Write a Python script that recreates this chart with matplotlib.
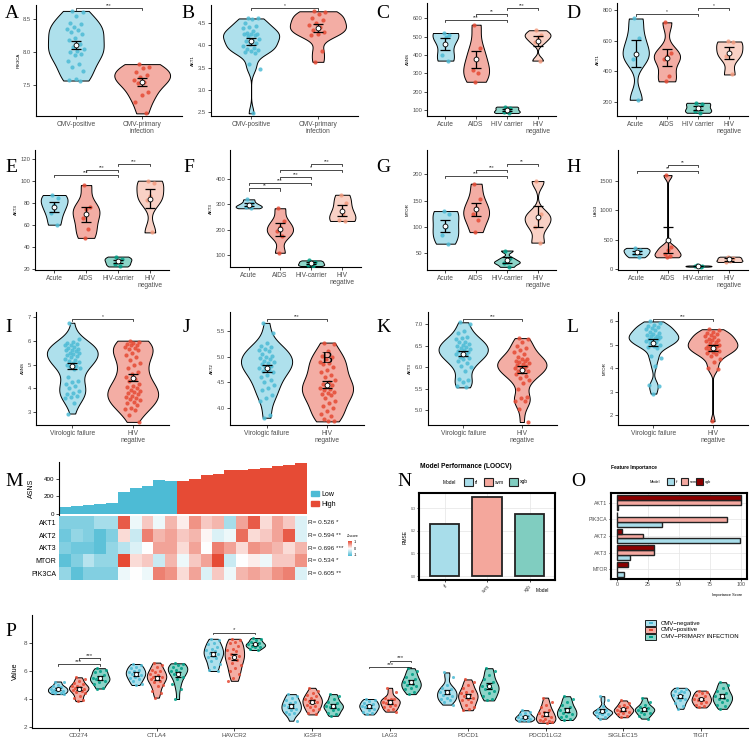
import numpy as np
import matplotlib
matplotlib.use("Agg")
import matplotlib.pyplot as plt
from matplotlib.patches import Rectangle
from matplotlib.colors import to_rgba, LinearSegmentedColormap

plt.rcParams['font.family'] = ['Liberation Sans', 'DejaVu Sans']

BLUE, RED, TEAL, SALMON = '#4DBBD5', '#E64B35', '#00A087', '#F39B7F'

# ---- A / B : CMV ----
cmv_labels = ['CMV-positive', 'CMV-primary\ninfection']
A_pos = [8.63, 8.62, 8.55, 8.45, 8.43, 8.38, 8.36, 8.34, 8.31, 8.28, 8.22, 8.18, 8.12,
         8.08, 8.05, 8.02, 8.00, 7.98, 7.96, 7.86, 7.82, 7.78, 7.72, 7.60, 7.58, 7.57]
A_pri = [7.82, 7.77, 7.76, 7.70, 7.65, 7.63, 7.58, 7.55, 7.53, 7.40, 7.35, 7.24, 7.07]
B_pos = [4.60, 4.60, 4.58, 4.50, 4.42, 4.40, 4.38, 4.32, 4.28, 4.26, 4.25, 4.25, 4.22, 4.20,
         4.15, 4.12, 4.10, 4.05, 4.02, 3.98, 3.95, 3.92, 3.90, 3.88, 3.85, 3.82, 3.58, 3.48, 2.48]
B_pri = [4.76, 4.74, 4.70, 4.62, 4.57, 4.50, 4.45, 4.40, 4.35, 4.30, 4.25, 4.22, 3.87, 3.63]

# ---- C-H : HIV stages ----
hiv_labels = ['Acute', 'AIDS', 'HIV carrier', 'HIV\nnegative']
hiv_labels2 = ['Acute', 'AIDS', 'HIV-carrier', 'HIV\nnegative']
C_vals = [[520, 510, 500, 400, 370], [565, 440, 380, 320, 300, 255],
          [120, 115, 100, 90, 85], [535, 510, 500, 470, 370]]
D_vals = [[745, 615, 520, 480, 215], [720, 520, 500, 480, 370, 335],
          [195, 190, 160, 140, 130], [595, 590, 520, 500, 380]]
E_vals = [[87, 84, 78, 71, 60], [96, 76, 74, 66, 56, 48],
          [31, 29, 27, 24, 22], [100, 98, 86, 82, 53]]
F_vals = [[320, 305, 295, 290, 285], [285, 235, 210, 195, 175, 110],
          [80, 75, 68, 62, 58], [338, 305, 262, 240, 235]]
G_vals = [[130, 125, 100, 85, 68], [182, 153, 135, 125, 113, 90],
          [55, 40, 33, 32, 24], [187, 125, 115, 100, 70]]
H_vals = [[360, 330, 290, 250, 200], [1600, 380, 330, 250, 230, 200],
          [60, 55, 50, 45, 40], [210, 180, 140, 120]]

# ---- I-L : virologic failure ----
vf_labels = ['Virologic failure', 'HIV\nnegative']
I_vf = [6.75, 6.05, 5.95, 5.9, 5.85, 5.8, 5.8, 5.75, 5.7, 5.65, 5.6, 5.6, 5.55, 5.5, 5.5, 5.45,
        5.4, 5.35, 5.3, 5.25, 5.2, 5.15, 5.1, 5.05, 5.0, 4.95, 4.9, 4.85, 4.8, 4.5, 4.3, 4.25,
        4.2, 4.1, 4.0, 3.9, 3.8, 3.75, 3.7, 3.65, 3.6, 3.4, 2.95]
I_hn = [6.0, 5.95, 5.9, 5.85, 5.8, 5.8, 5.75, 5.7, 5.65, 5.6, 5.5, 5.4, 5.3, 5.2, 5.05, 5.0,
        4.85, 4.7, 4.6, 4.5, 4.4, 4.3, 4.2, 4.1, 4.05, 4.0, 3.95, 3.9, 3.85, 3.8, 3.75, 3.7,
        3.65, 3.6, 3.55, 3.5, 3.45, 3.4, 3.3, 3.2, 3.15, 3.1, 2.9, 2.6]
J_vf = [5.65, 5.45, 5.27, 5.2, 5.18, 5.15, 5.12, 5.1, 5.05, 5.02, 5.0, 4.98, 4.95, 4.92, 4.9,
        4.88, 4.85, 4.82, 4.8, 4.78, 4.75, 4.72, 4.7, 4.65, 4.6, 4.55, 4.5, 4.45, 4.4, 4.35,
        4.25, 4.2, 4.15, 3.87, 3.82]
J_hn = [5.27, 5.25, 5.1, 5.02, 5.0, 4.95, 4.9, 4.88, 4.85, 4.8, 4.75, 4.7, 4.65, 4.6, 4.55,
        4.5, 4.48, 4.45, 4.42, 4.4, 4.38, 4.35, 4.32, 4.3, 4.28, 4.25, 4.2, 4.15, 4.1, 4.05,
        4.0, 3.95, 3.9, 3.85, 3.8, 3.75, 3.75]
K_vf = [7.05, 7.0, 6.85, 6.8, 6.7, 6.68, 6.65, 6.6, 6.58, 6.55, 6.52, 6.5, 6.48, 6.45, 6.42,
        6.4, 6.38, 6.35, 6.32, 6.3, 6.28, 6.25, 6.22, 6.2, 6.15, 6.1, 6.02, 6.0, 5.9, 5.72,
        5.7, 5.65, 5.55, 5.53]
K_hn = [6.68, 6.65, 6.6, 6.5, 6.45, 6.4, 6.35, 6.3, 6.25, 6.2, 6.2, 6.15, 6.15, 6.12, 6.1,
        6.08, 6.05, 6.03, 6.0, 5.98, 5.95, 5.92, 5.9, 5.88, 5.85, 5.8, 5.75, 5.7, 5.62, 5.5,
        5.3, 5.27, 5.22, 5.2, 5.02, 4.72]
L_vf = [5.98, 5.9, 5.85, 5.8, 5.75, 5.7, 5.65, 5.6, 5.55, 5.5, 5.45, 5.4, 5.38, 5.35, 5.3,
        5.28, 5.25, 5.22, 5.2, 5.15, 5.1, 5.05, 5.0, 4.95, 4.9, 4.85, 4.5, 4.45, 4.08, 3.3,
        3.25, 2.92]
L_hn = [5.65, 5.6, 5.55, 5.5, 5.45, 5.4, 5.35, 5.3, 5.25, 5.2, 5.18, 5.15, 5.1, 5.05, 5.0,
        4.98, 4.95, 4.92, 4.9, 4.85, 4.8, 4.75, 4.72, 4.7, 4.65, 4.6, 4.5, 4.4, 4.25, 4.0,
        3.95, 1.75]

# ---- M : heatmap ----
m_genes = ['AKT1', 'AKT2', 'AKT3', 'MTOR', 'PIK3CA']
m_r = ['R= 0.526 *', 'R= 0.594 **', 'R= 0.696 ***', 'R= 0.534 *', 'R= 0.605 **']
m_asns = [75, 90, 100, 110, 120, 250, 295, 320, 380, 372, 375, 400, 440, 455, 495, 500,
          510, 525, 540, 560, 580]
m_group = ['Low'] * 10 + ['High'] * 11
m_z = [
    [-0.7, -0.7, -0.7, -0.5, -0.5, 0.9, -0.1, 0.3, -0.1, 0.4, 0.1, 0.6, 0.3, 0.4, -0.5, 0.5, 0.9, 0.2, 0.5, 0.3, -0.2],
    [-0.8, -0.6, -0.7, -0.9, -0.7, 0.2, -0.3, 0.7, 0.4, 0.5, 0.3, 0.4, 0.05, -0.2, -0.1, 0.8, 0.2, 0.3, 0.5, 0.9, -0.2],
    [-0.7, -0.8, -0.8, -0.9, -0.6, -0.4, -0.2, 0.0, 0.5, 0.5, 0.2, 0.5, 0.0, 0.7, 0.5, 0.2, 0.6, 0.5, 0.4, 0.2, 0.4],
    [-0.9, -0.7, -0.4, -0.6, -0.6, 1.0, 0.2, 0.3, -0.3, 0.4, -0.1, 0.3, 0.5, 1.0, -0.3, 0.0, 0.1, -0.1, 0.3, 0.3, 0.6],
    [-0.6, -0.9, -0.7, -0.7, -0.7, -0.1, 0.0, -0.1, 0.7, 0.6, 0.2, 0.5, -0.2, 0.3, -0.1, 0.4, 0.5, 0.4, 0.6, 0.7, -0.2],
]

# ---- N / O : models ----
models = ['rf', 'svm', 'xgb']
model_rmse = [0.228, 0.349, 0.272]
model_cols = ['#A8DDEA', '#F4A79C', '#80CDC0']
fi_genes = ['AKT1', 'PIK3CA', 'AKT2', 'AKT3', 'MTOR']
fi_rf = [0.5, 36, 99, 10, 5.5]
fi_svm = [100, 89, 21, 30, 0]
fi_xgb = [100, 0, 4, 30, 9]
fi_cols = ['#A8DDEA', '#F4A8A0', '#8B0000']

# ---- P : immune checkpoints ----
p_genes = ['CD274', 'CTLA4', 'HAVCR2', 'IGSF8', 'LAG3', 'PDCD1', 'PDCD1LG2', 'SIGLEC15', 'TIGIT']
p_groups = ['CMV\u2212negative', 'CMV\u2212positive', 'CMV\u2212PRIMARY INFECTION']
P_neg = [
    [5.25, 5.2, 5.0, 4.9, 4.85, 4.8, 4.75, 4.7, 4.65, 4.6, 4.55, 4.5, 4.45, 4.4, 4.35],
    [6.5, 6.4, 6.3, 6.2, 6.1, 6.0, 5.9, 5.85, 5.8, 5.7, 5.6, 5.5, 5.4, 5.3, 5.1, 5.0],
    [8.3, 8.2, 8.0, 7.9, 7.7, 7.6, 7.5, 7.4, 7.3, 7.2, 7.1, 7.0, 6.9, 6.7, 6.5, 6.3, 6.1, 6.0],
    [4.35, 4.25, 4.1, 3.9, 3.8, 3.7, 3.6, 3.5, 3.4, 3.3, 3.2, 3.1, 3.0, 2.9, 2.45],
    [4.0, 3.95, 3.85, 3.75, 3.65, 3.6, 3.5, 3.45, 3.4, 3.3, 3.2, 3.1, 3.0, 2.9],
    [5.9, 5.6, 5.0, 4.8, 4.7, 4.6, 4.5, 4.4, 4.3, 4.2, 4.1, 4.0, 3.9, 3.8, 3.6],
    [3.2, 3.1, 3.0, 2.9, 2.8, 2.75, 2.7, 2.65, 2.6, 2.55, 2.5, 2.45, 2.4],
    [4.2, 3.9, 3.5, 3.3, 3.2, 3.15, 3.1, 3.05, 3.0, 2.95, 2.9, 2.8, 2.7, 2.6],
    [4.8, 4.7, 4.6, 4.55, 4.5, 4.4, 4.3, 4.2, 4.1, 4.0, 3.9, 3.7, 3.5, 3.3],
]
P_pos = [
    [5.55, 5.45, 5.3, 5.15, 5.05, 4.95, 4.9, 4.85, 4.8, 4.75, 4.7, 4.65, 4.6, 4.5, 4.4, 4.25, 4.1, 3.95, 3.85],
    [6.6, 6.45, 6.3, 6.1, 6.0, 5.9, 5.8, 5.7, 5.6, 5.55, 5.5, 5.4, 5.3, 5.2, 5.0, 4.9, 4.6, 4.4, 4.1],
    [8.3, 8.2, 8.1, 8.0, 7.8, 7.6, 7.5, 7.4, 7.2, 7.1, 7.0, 6.9, 6.8, 6.6, 6.4, 6.2, 6.0, 5.8, 5.5, 5.3],
    [4.8, 4.6, 4.4, 4.3, 4.2, 4.1, 4.0, 3.9, 3.85, 3.8, 3.7, 3.6, 3.5, 3.4, 3.3, 3.2, 3.0, 2.9],
    [4.8, 4.5, 4.0, 4.1, 4.0, 3.9, 3.8, 3.75, 3.7, 3.6, 3.5, 3.4, 3.3, 3.2, 3.1],
    [5.4, 5.2, 5.0, 4.8, 4.6, 4.5, 4.4, 4.3, 4.2, 4.1, 4.0, 3.9, 3.8, 3.6, 3.4, 3.3, 3.2],
    [4.1, 3.8, 3.6, 3.4, 3.2, 3.1, 3.0, 2.9, 2.8, 2.7, 2.6, 2.5, 2.45, 2.4, 2.35, 2.3],
    [3.9, 3.75, 3.6, 3.5, 3.4, 3.3, 3.25, 3.2, 3.15, 3.1, 3.0, 2.9, 2.8, 2.7],
    [4.6, 4.5, 4.4, 4.3, 4.2, 4.1, 4.0, 3.95, 3.9, 3.8, 3.7, 3.6, 3.5, 3.4],
]
P_pri = [
    [6.2, 6.1, 6.0, 5.9, 5.75, 5.6, 5.5, 5.45, 5.4, 5.3, 5.2, 5.1, 4.8, 4.75],
    [6.55, 6.5, 6.4, 6.3, 6.2, 6.1, 6.0, 5.9, 5.8, 5.6, 5.4, 5.1, 4.7, 4.0],
    [8.35, 8.3, 8.2, 8.1, 8.0, 7.95, 7.9, 7.85, 7.8, 7.75, 7.7, 7.6, 7.5],
    [4.35, 4.2, 4.0, 3.8, 3.7, 3.6, 3.5, 3.45, 3.4, 3.3, 3.2, 3.0, 2.9, 2.8],
    [6.2, 6.0, 5.8, 5.6, 5.45, 5.3, 5.2, 5.1, 5.0, 4.9, 4.8, 4.7, 4.5, 4.35],
    [6.2, 6.0, 5.7, 5.4, 5.2, 5.0, 4.9, 4.8, 4.7, 4.6, 4.4, 4.2, 4.0, 3.9],
    [4.2, 4.0, 3.8, 3.6, 3.4, 3.3, 3.2, 3.1, 3.0, 2.9, 2.8, 2.7, 2.6, 2.5],
    [4.1, 3.8, 3.6, 3.45, 3.35, 3.3, 3.25, 3.2, 3.1, 3.0, 2.9, 2.8, 2.6],
    [5.2, 5.0, 4.8, 4.6, 4.4, 4.3, 4.2, 4.1, 4.0, 3.9, 3.8, 3.6, 3.5, 3.3],
]

W, H = 750, 737
fig = plt.figure(figsize=(7.5, 7.37), dpi=100)


def ax_px(l, t, r, b):
    return fig.add_axes([l / W, 1 - b / H, (r - l) / W, (b - t) / H])


def ftext(x, y, s, **kw):
    fig.text(x / W, 1 - y / H, s, **kw)


def frect(x, y, w, h, **kw):
    fig.add_artist(Rectangle((x / W, 1 - (y + h) / H), w / W, h / H,
                             transform=fig.transFigure, **kw))


def letter(x, y, s):
    ftext(x, y, s, family='Liberation Serif', fontsize=14, ha='left', va='center')


def kde(vals, grid):
    v = np.asarray(vals, float)
    n = len(v)
    sd = v.std(ddof=1)
    q75, q25 = np.percentile(v, [75, 25])
    lo = min(sd, (q75 - q25) / 1.34) if q75 > q25 else sd
    bw = 0.9 * lo * n ** -0.2
    z = (grid[:, None] - v[None, :]) / bw
    return np.exp(-0.5 * z ** 2).sum(1) / (n * bw * np.sqrt(2 * np.pi))


def jitter(n, w):
    return ((np.arange(n) * 0.6180339887 + 0.3) % 1.0 - 0.5) * 2 * w


def classic(ax, xs=4.8, ys=4.2):
    for s in ['top', 'right']:
        ax.spines[s].set_visible(False)
    for s in ['left', 'bottom']:
        ax.spines[s].set_linewidth(0.8)
    ax.tick_params(length=2, width=0.5, labelcolor='#4D4D4D', pad=1.5)
    ax.tick_params(axis='x', labelsize=xs)
    ax.tick_params(axis='y', labelsize=ys)


def violins(ax, groups, xpos, cols, halfw, jw, ps, capsize, ms):
    # each violin scaled to the same maximum width (scale = "width")
    for g, c, x in zip(groups, cols, xpos):
        gr = np.linspace(min(g), max(g), 256)
        d = kde(g, gr)
        w = d / d.max() * halfw
        ax.fill_betweenx(gr, x - w, x + w, facecolor=to_rgba(c, 0.45),
                         edgecolor='black', lw=0.7, zorder=2)
        ax.scatter(x + jitter(len(g), jw), g, s=ps, color=c, alpha=0.85, lw=0, zorder=3)
        m = np.mean(g)
        se = np.std(g, ddof=1) / np.sqrt(len(g))
        ax.errorbar(x, m, yerr=se, fmt='none', ecolor='black', elinewidth=0.9,
                    capsize=capsize, capthick=0.9, zorder=4)
        ax.plot(x, m, 'o', ms=ms, mfc='white', mec='black', mew=0.6, zorder=5)


def bracket(ax, x1, x2, y, lab, tick, fs=3.5):
    ax.plot([x1, x1, x2, x2], [y - tick, y, y, y - tick], color='black', lw=0.5, zorder=6)
    ax.text((x1 + x2) / 2, y, lab, ha='center', va='bottom', fontsize=fs, color='#333333')


def violin_panel(rect, groups, labels, cols, ylabel, ylim, yticks, brackets):
    ax = ax_px(*rect)
    n = len(groups)
    violins(ax, groups, np.arange(n), cols, 0.42, 0.14 if n > 2 else 0.13,
            9, 3.5, 3.5)
    ax.set_xlim(-0.6, n - 0.4)
    ax.set_ylim(*ylim)
    ax.set_yticks(yticks)
    ax.set_xticks(np.arange(n))
    ax.set_xticklabels(labels, linespacing=1.0)
    ax.set_ylabel(ylabel, fontsize=3.2, labelpad=2)
    classic(ax)
    tick = (ylim[1] - ylim[0]) * 0.018
    for x1, x2, y, lab in brackets:
        bracket(ax, x1, x2, y, lab, tick)
    return ax


hiv_cols = [BLUE, RED, TEAL, SALMON]

# Row 1
violin_panel((36, 5, 182, 116), [A_pos, A_pri], cmv_labels, [BLUE, RED], 'PIK3CA',
             (7.03, 8.72), [7.5, 8.0, 8.5], [(0, 1, 8.67, '***')])
violin_panel((211, 5, 358, 116), [B_pos, B_pri], cmv_labels, [BLUE, RED], 'AKT1',
             (2.42, 4.9), [2.5, 3.0, 3.5, 4.0, 4.5], [(0, 1, 4.84, '*')])
violin_panel((427, 3, 556, 116), C_vals, hiv_labels, hiv_cols, 'ASNS',
             (69, 683), [100, 200, 300, 400, 500, 600],
             [(0, 2, 590, '***'), (1, 2, 624, '**'), (2, 3, 655, '***')])
violin_panel((617, 3, 748, 116), D_vals, hiv_labels, hiv_cols, 'AKT1',
             (109, 846), [200, 400, 600, 800],
             [(0, 2, 775, '*'), (2, 3, 812, '*')])
# Row 2
violin_panel((35, 150, 169, 270), E_vals, hiv_labels2, hiv_cols, 'AKT3',
             (18.8, 127.9), [20, 40, 60, 80, 100, 120],
             [(0, 2, 105, '***'), (1, 2, 110, '***'), (2, 3, 115, '***')])
violin_panel((230, 150, 361, 267), F_vals, hiv_labels2, hiv_cols, 'AKT3',
             (54, 514), [100, 200, 300, 400],
             [(0, 1, 363, '**'), (0, 2, 385, '***'), (1, 2, 409, '***'),
              (1, 3, 435, '*'), (2, 3, 459, '***')])
violin_panel((427, 150, 556, 270), G_vals, hiv_labels2, hiv_cols, 'MTOR',
             (18, 246), [50, 100, 150, 200],
             [(0, 2, 197, '***'), (1, 2, 208, '***'), (2, 3, 219, '**')])
violin_panel((618, 150, 748, 270), H_vals, hiv_labels2, hiv_cols, 'LAG3',
             (-17, 2028), [0, 500, 1000, 1500],
             [(0, 2, 1667, '**'), (1, 2, 1773, '**')])
# Row 3
violin_panel((36, 312, 169, 425), [I_vf, I_hn], vf_labels, [BLUE, RED], 'ASNS',
             (2.47, 7.2), [3, 4, 5, 6, 7], [(0, 1, 6.91, '*')])
axJ = violin_panel((230, 312, 364, 425), [J_vf, J_hn], vf_labels, [BLUE, RED], 'AKT2',
                   (3.68, 5.86), [4.0, 4.5, 5.0, 5.5], [(0, 1, 5.73, '***')])
axJ.text(1, 4.95, 'B', family='Liberation Serif', fontsize=12, ha='center', va='center', zorder=7)
violin_panel((428, 312, 557, 425), [K_vf, K_hn], vf_labels, [BLUE, RED], 'AKT3',
             (4.65, 7.29), [5.0, 5.5, 6.0, 6.5, 7.0], [(0, 1, 7.12, '***')])
violin_panel((618, 312, 748, 425), [L_vf, L_hn], vf_labels, [BLUE, RED], 'MTOR',
             (1.59, 6.38), [2, 3, 4, 5, 6], [(0, 1, 6.1, '***')])

# Panel M
axb = ax_px(59, 462, 307, 515)
ncol = len(m_asns)
axb.bar(np.arange(ncol), m_asns, width=1.0,
        color=[BLUE if g == 'Low' else RED for g in m_group], lw=0)
axb.set_xlim(-0.5, ncol - 0.5)
axb.set_ylim(-12, 590)
axb.set_yticks([0, 200, 400])
axb.set_xticks([])
for s in ['top', 'right', 'bottom']:
    axb.spines[s].set_visible(False)
axb.spines['left'].set_linewidth(0.8)
axb.tick_params(axis='y', labelsize=4.5, length=2, width=0.5, pad=1.5)
axb.set_ylabel('ASNS', fontsize=5, labelpad=6)

axh = ax_px(59, 516, 307, 580)
zcmap = LinearSegmentedColormap.from_list('z', [BLUE, '#FFFFFF', RED])
axh.imshow(np.array(m_z), cmap=zcmap, vmin=-1, vmax=1, aspect='auto',
           extent=(-0.5, ncol - 0.5, len(m_genes) - 0.5, -0.5))
axh.set_yticks(range(len(m_genes)))
axh.set_yticklabels(m_genes)
axh.set_xticks([])
axh.tick_params(axis='y', length=0, labelsize=5, pad=2)
for s in axh.spines.values():
    s.set_visible(False)
for i, r in enumerate(m_r):
    axh.text(ncol - 0.4, i, r, fontsize=4.6, va='center', ha='left', color='#222222')
frect(311, 491, 8, 5, color=BLUE)
frect(311, 501, 8, 5, color=RED)
ftext(321, 494, 'Low', fontsize=5, va='center')
ftext(321, 504, 'High', fontsize=5, va='center')
ftext(347, 536, 'Z-score', fontsize=2.5, va='center')
zbar = fig.add_axes([348 / W, 1 - 556 / H, 4 / W, 15 / H])
zbar.imshow(np.linspace(1, -1, 50)[:, None], cmap=zcmap, vmin=-1, vmax=1, aspect='auto')
zbar.set_axis_off()
for lab, yy in zip(['1', '0', '-1'], [542, 549, 555]):
    ftext(354, yy, lab, fontsize=2.8, va='center')

# Panel N
axn = ax_px(419, 493, 555, 580)
axn.bar(np.arange(3), model_rmse, width=0.7, color=model_cols, edgecolor='#222222', lw=1.3, zorder=3)
axn.set_xlim(-0.6, 2.6)
axn.set_ylim(-0.05 * max(model_rmse), 1.05 * max(model_rmse))
axn.set_yticks([0.0, 0.1, 0.2, 0.3])
axn.set_xticks(np.arange(3))
axn.set_xticklabels(models, rotation=45, ha='right', rotation_mode='anchor')
axn.tick_params(labelsize=3.5, length=1.5, width=0.5, pad=1, labelcolor='#4D4D4D')
axn.tick_params(axis='y', labelsize=2.5)
axn.grid(True, color='#E5E5E5', lw=0.5, zorder=0)
for s in axn.spines.values():
    s.set_linewidth(1.5)
axn.set_ylabel('RMSE', fontsize=3.5, labelpad=2)
ftext(549, 591, 'Model', fontsize=3.5, ha='right', va='center')
ftext(420, 467, 'Model Performance (LOOCV)', fontsize=4.8, fontweight='bold', va='center')
ftext(443, 482, 'Model', fontsize=3.5, va='center')
for x0, lab, c in zip([464, 484, 509], models, model_cols):
    frect(x0, 478, 9, 8, facecolor=c, edgecolor='#222222', lw=0.8)
    ftext(x0 + 11, 482, lab, fontsize=3.5, va='center')

# Panel O
axo = ax_px(611, 493, 747, 579)
ypos = np.arange(len(fi_genes))[::-1]
for off, vals, c in zip([-0.3, 0.0, 0.3], [fi_rf, fi_svm, fi_xgb], fi_cols):
    axo.barh(ypos + off, vals, height=0.3, color=c, edgecolor='#222222', lw=1.0, zorder=3)
axo.set_xlim(-5, 105)
axo.set_ylim(-0.6, len(fi_genes) - 0.4)
axo.set_yticks(ypos)
axo.set_yticklabels(fi_genes)
axo.set_xticks([0, 25, 50, 75, 100])
axo.tick_params(labelsize=3.8, length=1.5, width=0.5, pad=1, labelcolor='#4D4D4D')
axo.grid(True, color='#E5E5E5', lw=0.5, zorder=0)
for s in axo.spines.values():
    s.set_linewidth(1.5)
ftext(611, 467, 'Feature Importance', fontsize=3.5, fontweight='bold', va='center')
ftext(742, 595, 'Importance Score', fontsize=2.8, ha='right', va='center')
ftext(650, 482, 'Model', fontsize=2.8, va='center')
for x0, lab, c in zip([667, 681, 696], models, fi_cols):
    frect(x0, 478, 7, 7, facecolor=c, edgecolor='#222222', lw=0.8)
    ftext(x0 + 8.5, 482, lab, fontsize=2.8, va='center')

# Panel P
axp = ax_px(32, 615, 748, 728)
p_cols = [BLUE, RED, TEAL]
groups, xpos, cols = [], [], []
for gi in range(len(p_genes)):
    for k, src in enumerate([P_neg, P_pos, P_pri]):
        groups.append(src[gi])
        xpos.append(gi + (k - 1) * 0.27)
        cols.append(p_cols[k])
violins(axp, groups, xpos, cols, 0.125, 0.09, 5, 2.0, 3.0)
axp.set_xlim(-0.6, len(p_genes) - 0.4)
axp.set_ylim(1.93, 10)
axp.set_yticks([2, 4, 6, 8])
axp.set_xticks(np.arange(len(p_genes)))
axp.set_xticklabels(p_genes)
axp.set_ylabel('Value', fontsize=5, labelpad=3)
classic(axp, xs=4.6, ys=4.6)
for x1, x2, y, lab in [(-0.27, 0.27, 6.5, '***'), (0.0, 0.27, 6.9, '***'),
                       (1.73, 2.27, 8.75, '*'),
                       (3.73, 4.27, 6.3, '***'), (4.0, 4.27, 6.75, '***')]:
    bracket(axp, x1, x2, y, lab, 0.12, fs=4.5)
for i, (lab, c) in enumerate(zip(p_groups, p_cols)):
    yy = 620 + i * 7
    frect(645, yy, 11, 6, facecolor=to_rgba(c, 0.45), edgecolor='black', lw=0.6)
    frect(648.5, yy + 1.8, 4, 2.4, facecolor=c, lw=0)
    ftext(661, yy + 3, lab, fontsize=4.3, va='center')

# panel letters
for s, x, y in [('A', 5, 14), ('B', 181, 14), ('C', 376, 14), ('D', 566, 14),
                ('E', 5, 167), ('F', 183, 167), ('G', 376, 167), ('H', 566, 167),
                ('I', 5, 327), ('J', 183, 327), ('K', 376, 327), ('L', 566, 327),
                ('M', 5, 482), ('N', 397, 482), ('O', 571, 482), ('P', 5, 632)]:
    letter(x, y, s)

fig.savefig('out.png', dpi=100)
